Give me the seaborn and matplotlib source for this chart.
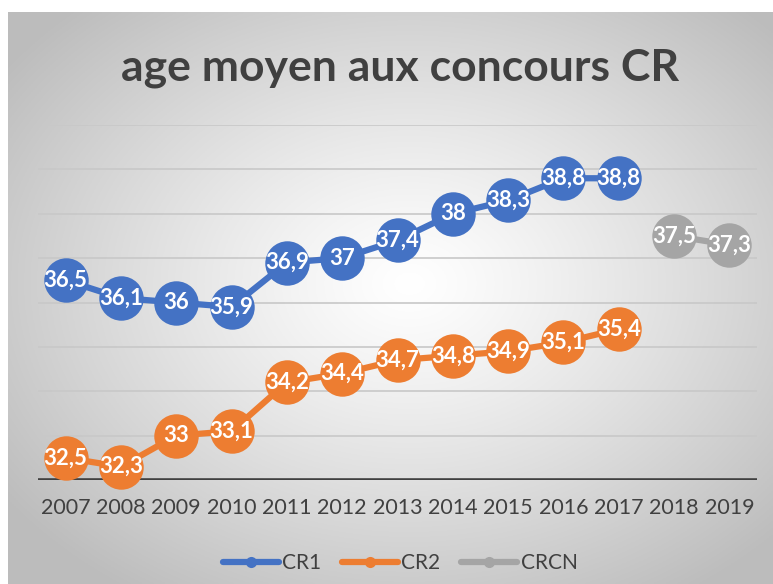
import numpy as np
import pandas as pd
import matplotlib.pyplot as plt
import seaborn as sns

# ============================================================
# Data
# ============================================================

years_cr = [2007, 2008, 2009, 2010, 2011, 2012, 2013, 2014, 2015, 2016, 2017]
cr1 = [36.5, 36.1, 36.0, 35.9, 36.9, 37.0, 37.4, 38.0, 38.3, 38.8, 38.8]
cr2 = [32.5, 32.3, 33.0, 33.1, 34.2, 34.4, 34.7, 34.8, 34.9, 35.1, 35.4]
years_crcn = [2018, 2019]
crcn = [37.5, 37.3]
all_years = list(range(2007, 2020))

series = {
    "CR1": (years_cr, cr1, "#4472C4"),
    "CR2": (years_cr, cr2, "#ED7D31"),
    "CRCN": (years_crcn, crcn, "#A5A5A5"),
}

# ============================================================
# Figure
# ============================================================

sns.set_theme(style="white")
plt.rcParams["font.family"] = ["Lato", "DejaVu Sans"]

W, H = 773, 584
fig = plt.figure(figsize=(W / 100, H / 100), dpi=100)
fig.patch.set_facecolor("white")

# radial gradient background of the chart area
bg = fig.add_axes([8 / W, 0, 1 - 8 / W, 1 - 12 / H])
bg.set_axis_off()
gx, gy = np.meshgrid(np.linspace(-1, 1, 400), np.linspace(-1, 1, 300))
r = np.sqrt((gx - 0.05) ** 2 + (gy + 0.05) ** 2)
r = np.clip(r / 1.3, 0, 1)
shade = 1.0 - 0.26 * r ** 1.2
img = np.dstack([shade, shade, shade])
bg.imshow(img, aspect="auto", extent=[0, 1, 0, 1])
bg.set_xlim(0, 1)
bg.set_ylim(0, 1)

ax = fig.add_axes([38 / W, 1 - 480 / H, (757 - 38) / W, (480 - 125) / H])
ax.patch.set_alpha(0)

for yv in range(33, 41):
    ax.axhline(yv, color="#c8c8c8", lw=1.2, zorder=1)
ax.axhline(32, color="#404040", lw=2.6, zorder=1)

for name, (xs, ys, color) in series.items():
    df = pd.DataFrame({"year": xs, "value": ys})
    sns.lineplot(
        data=df, x="year", y="value", ax=ax, color=color,
        lw=4.5, marker="o", markersize=32, markeredgewidth=0,
        label=name, zorder=3, clip_on=False
    )
    for xv, yv in zip(xs, ys):
        ax.text(
            xv, yv, f"{yv:g}".replace(".", ","),
            ha="center", va="center", color="white",
            fontsize=16, fontweight="bold", zorder=4
        )

ax.set_xlim(2006.5, 2019.5)
ax.set_ylim(32, 40)
ax.set_xticks(all_years)
ax.set_xticklabels([str(y) for y in all_years], fontsize=15.5, color="#404040")
ax.tick_params(axis="x", length=0, pad=13)
ax.set_yticks([])
ax.set_xlabel("")
ax.set_ylabel("")
for s in ax.spines.values():
    s.set_visible(False)

leg = ax.legend(
    loc="center", bbox_to_anchor=(400 / W, 1 - 563 / H),
    bbox_transform=fig.transFigure, ncol=3, frameon=False,
    fontsize=15, handlelength=2.7, columnspacing=1.0, handletextpad=0.15
)
for line in leg.get_lines():
    line.set_markersize(8)
    line.set_linewidth(4.5)
for t in leg.get_texts():
    t.set_color("#404040")

fig.text(400 / W, 1 - 68 / H, "age moyen aux concours CR",
         ha="center", va="center", fontsize=32, fontweight="bold",
         color="#404040")

plt.savefig("out.png", dpi=100)
plt.close()
